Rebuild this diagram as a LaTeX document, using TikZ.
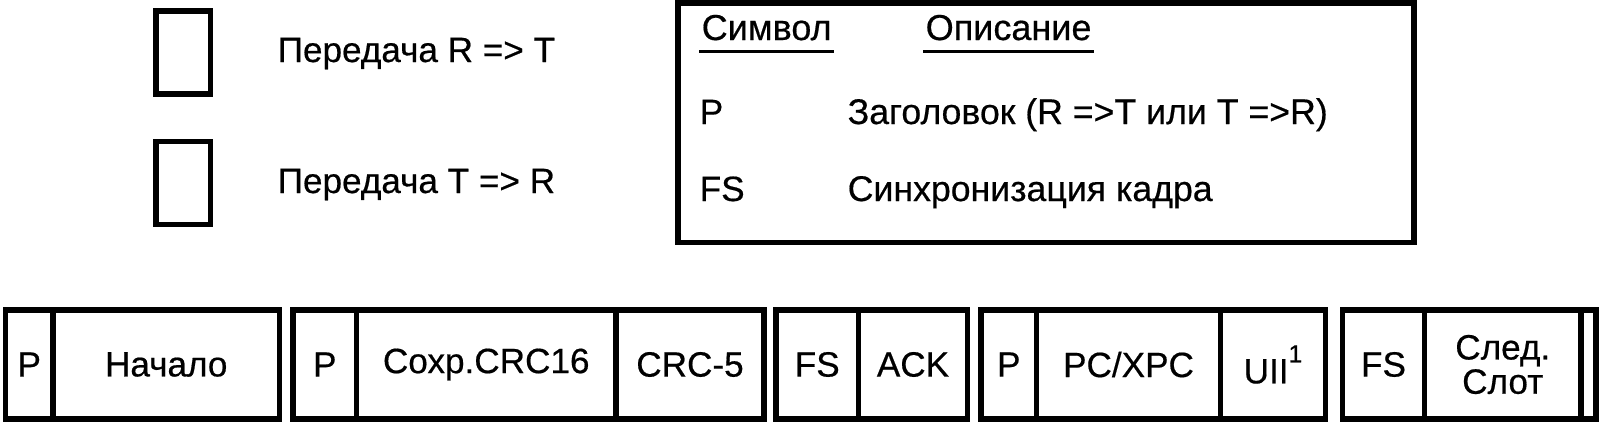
\documentclass[tikz,border=0pt]{standalone}
\usepackage{fontspec}
\setmainfont[FakeBold=0.5]{Liberation Sans}
\usetikzlibrary{positioning}

\begin{document}
\begin{tikzpicture}[x=0.02cm, y=-0.02cm, line width=3.1pt,
		every node/.style={font=\fontsize{20}{19.5}\selectfont},
		cell/.style={draw, inner sep=0pt, outer sep=0pt, minimum height=109*0.02cm, minimum width=#1*0.02cm},
		key/.style={draw, inner sep=0pt, minimum width=54.5*0.02cm, minimum height=83*0.02cm},
		lbl/.style={inner sep=0pt, anchor=base west},
		uline/.style={line width=1.7pt}]
		\useasboundingbox (0,0) rectangle (1605,426);
		
		% legend
		\node[key] (kRT) at (183.25,52.5) {};
		\node[key] (kTR) at (183.25,182.75) {};
		\node[lbl] (tRT) at (275,62) {Передача R => T};
		\node[lbl] (tTR) at (275,193) {Передача T => R};
		
		\node[draw, inner sep=0pt, minimum width=736*0.02cm, minimum height=239.5*0.02cm] (legend) at (1046,122.75) {};
		\node[lbl, font=\fontsize{20.5}{20}\selectfont] (hSym) at (699,40) {Символ};
		\node[lbl, font=\fontsize{20.5}{20}\selectfont] (hDesc) at (923,40) {Описание};
		\draw[uline] ([yshift=-6.6pt]hSym.base west) -- ([yshift=-6.6pt]hSym.base east);
		\draw[uline] ([yshift=-6.6pt]hDesc.base west) -- ([yshift=-6.6pt]hDesc.base east);
		\node[lbl] (sP) at (697,124) {P};
		\node[lbl, font=\fontsize{20.3}{20}\selectfont] (dP) at (845,124) {Заголовок (R =>T или T =>R)};
		\node[lbl] (sFS) at (697,201) {FS};
		\node[lbl, font=\fontsize{20.3}{20}\selectfont] (dFS) at (845,201) {Синхронизация кадра};
		
		% frame fields
		\node[cell=47.5] (p1) at (29.25,364.5) {P};
		\node[cell=226.5] (start) at (166.25,364.5) {Начало};
		\node[cell=63.5] (p2) at (324.75,364.5) {P};
		\node[cell=259.5] (crc16) at (486.25,364.5) {Сохр.CRC16};
		\node[cell=148] (crc5) at (690,364.5) {CRC-5};
		\node[cell=82.5] (fs1) at (817.25,364.5) {FS};
		\node[cell=109] (ack) at (913,364.5) {ACK};
		\node[cell=55.5] (p3) at (1008.75,364.5) {P};
		\node[cell=184] (pc) at (1128.5,364.5) {PC/XPC};
		\node[cell=105] (uii) at (1273,364.5) {UII\raisebox{0.6em}{\fontsize{14}{14}\selectfont 1}};
		\node[cell=82] (fs2) at (1383.5,364.5) {FS};
		\node[cell=156.5, align=center] (next) at (1502.75,364.5) {След.\\Слот};
		\node[cell=15] (tail) at (1588.5,364.5) {};
\end{tikzpicture}
\end{document}
